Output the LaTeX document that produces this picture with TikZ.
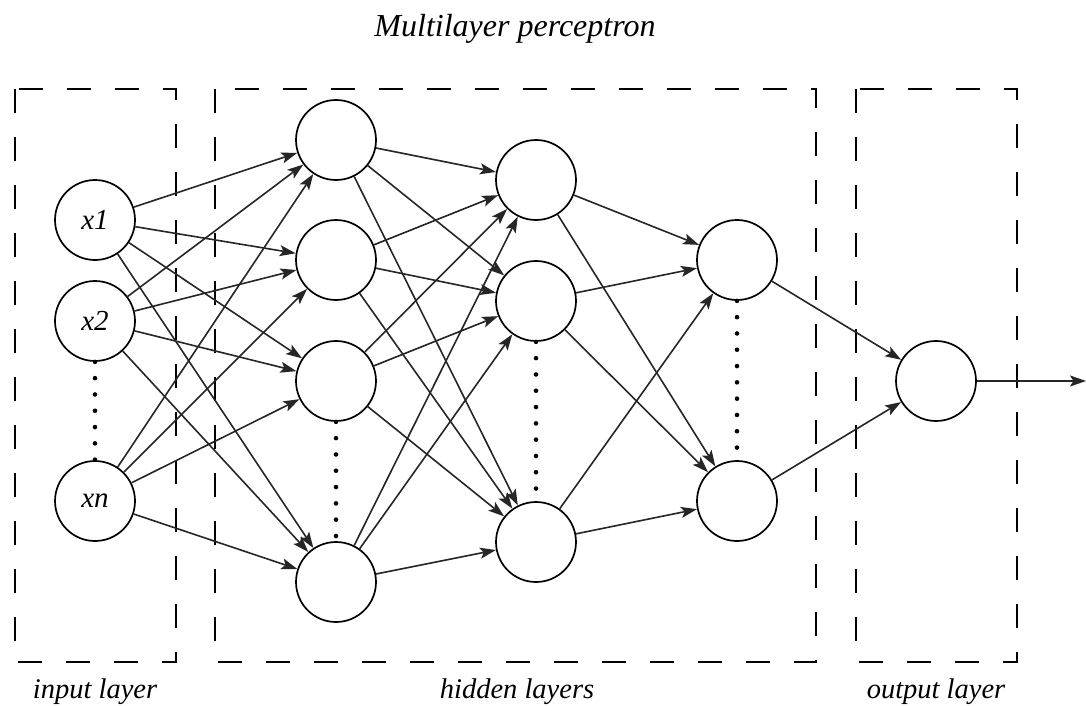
\documentclass[tikz,border=0pt]{standalone}
\usepackage{fontspec}
\setmainfont{Liberation Serif}
\usetikzlibrary{arrows.meta}
\begin{document}
\begin{tikzpicture}[x=1pt,y=-1pt,
  neuron/.style={circle, draw, line width=1.7pt, minimum size=80pt, inner sep=0pt,
    font=\fontsize{29}{31}\selectfont\itshape},
  link/.style={draw=black!85, line width=1.6pt,
    -{Stealth[length=16pt,width=11pt,inset=3.5pt]}},
  layerbox/.style={draw, line width=1.8pt, dash pattern=on 24pt off 24pt},
  ellip/.style={line width=4.6pt, line cap=round, dash pattern=on 0pt off 16.3pt},
  caption/.style={font=\fontsize{28.5}{30}\selectfont\itshape, anchor=base}
]
\useasboundingbox (0,0) rectangle (1086,706);

% title
\node[font=\fontsize{32}{34}\selectfont\itshape, anchor=base] (title) at (515,37) {Multilayer perceptron};

% layer frames
\draw[layerbox] (15,89) rectangle (176,662);
\draw[layerbox] (215,89) rectangle (816,662);
\draw[layerbox] (856,89) rectangle (1017,662);

% layer captions
\node[caption] (cin) at (95,698) {input layer};
\node[caption] (chid) at (517,698) {hidden layers};
\node[caption] (cout) at (936,698) {output layer};

% input layer
\node[neuron] (i1) at (95,220) {x1};
\node[neuron] (i2) at (95,321) {x2};
\node[neuron] (i3) at (95,501) {xn};

% first hidden layer
\node[neuron] (a1) at (336,140) {};
\node[neuron] (a2) at (336,260) {};
\node[neuron] (a3) at (336,381) {};
\node[neuron] (a4) at (336,582) {};

% second hidden layer
\node[neuron] (b1) at (536,180) {};
\node[neuron] (b2) at (536,301) {};
\node[neuron] (b3) at (536,542) {};

% third hidden layer
\node[neuron] (c1) at (737,260) {};
\node[neuron] (c2) at (737,501) {};

% output neuron
\node[neuron] (o) at (936,381) {};
\coordinate (y) at (1086,381);

% connections
\foreach \s in {i1,i2,i3}
  \foreach \t in {a1,a2,a3,a4}
    \draw[link] (\s) -- (\t);
\foreach \s in {a1,a2,a3,a4}
  \foreach \t in {b1,b2,b3}
    \draw[link] (\s) -- (\t);
\foreach \s in {b1,b2,b3}
  \foreach \t in {c1,c2}
    \draw[link] (\s) -- (\t);
\foreach \s in {c1,c2}
  \draw[link] (\s) -- (o);
\draw[link] (o) -- (y);

% ellipses for omitted neurons
\draw[ellip] (i2.south) -- (i3.north);
\draw[ellip] (a3.south) -- (a4.north);
\draw[ellip] (b2.south) -- (b3.north);
\draw[ellip] (c1.south) -- (c2.north);
\end{tikzpicture}
\end{document}
